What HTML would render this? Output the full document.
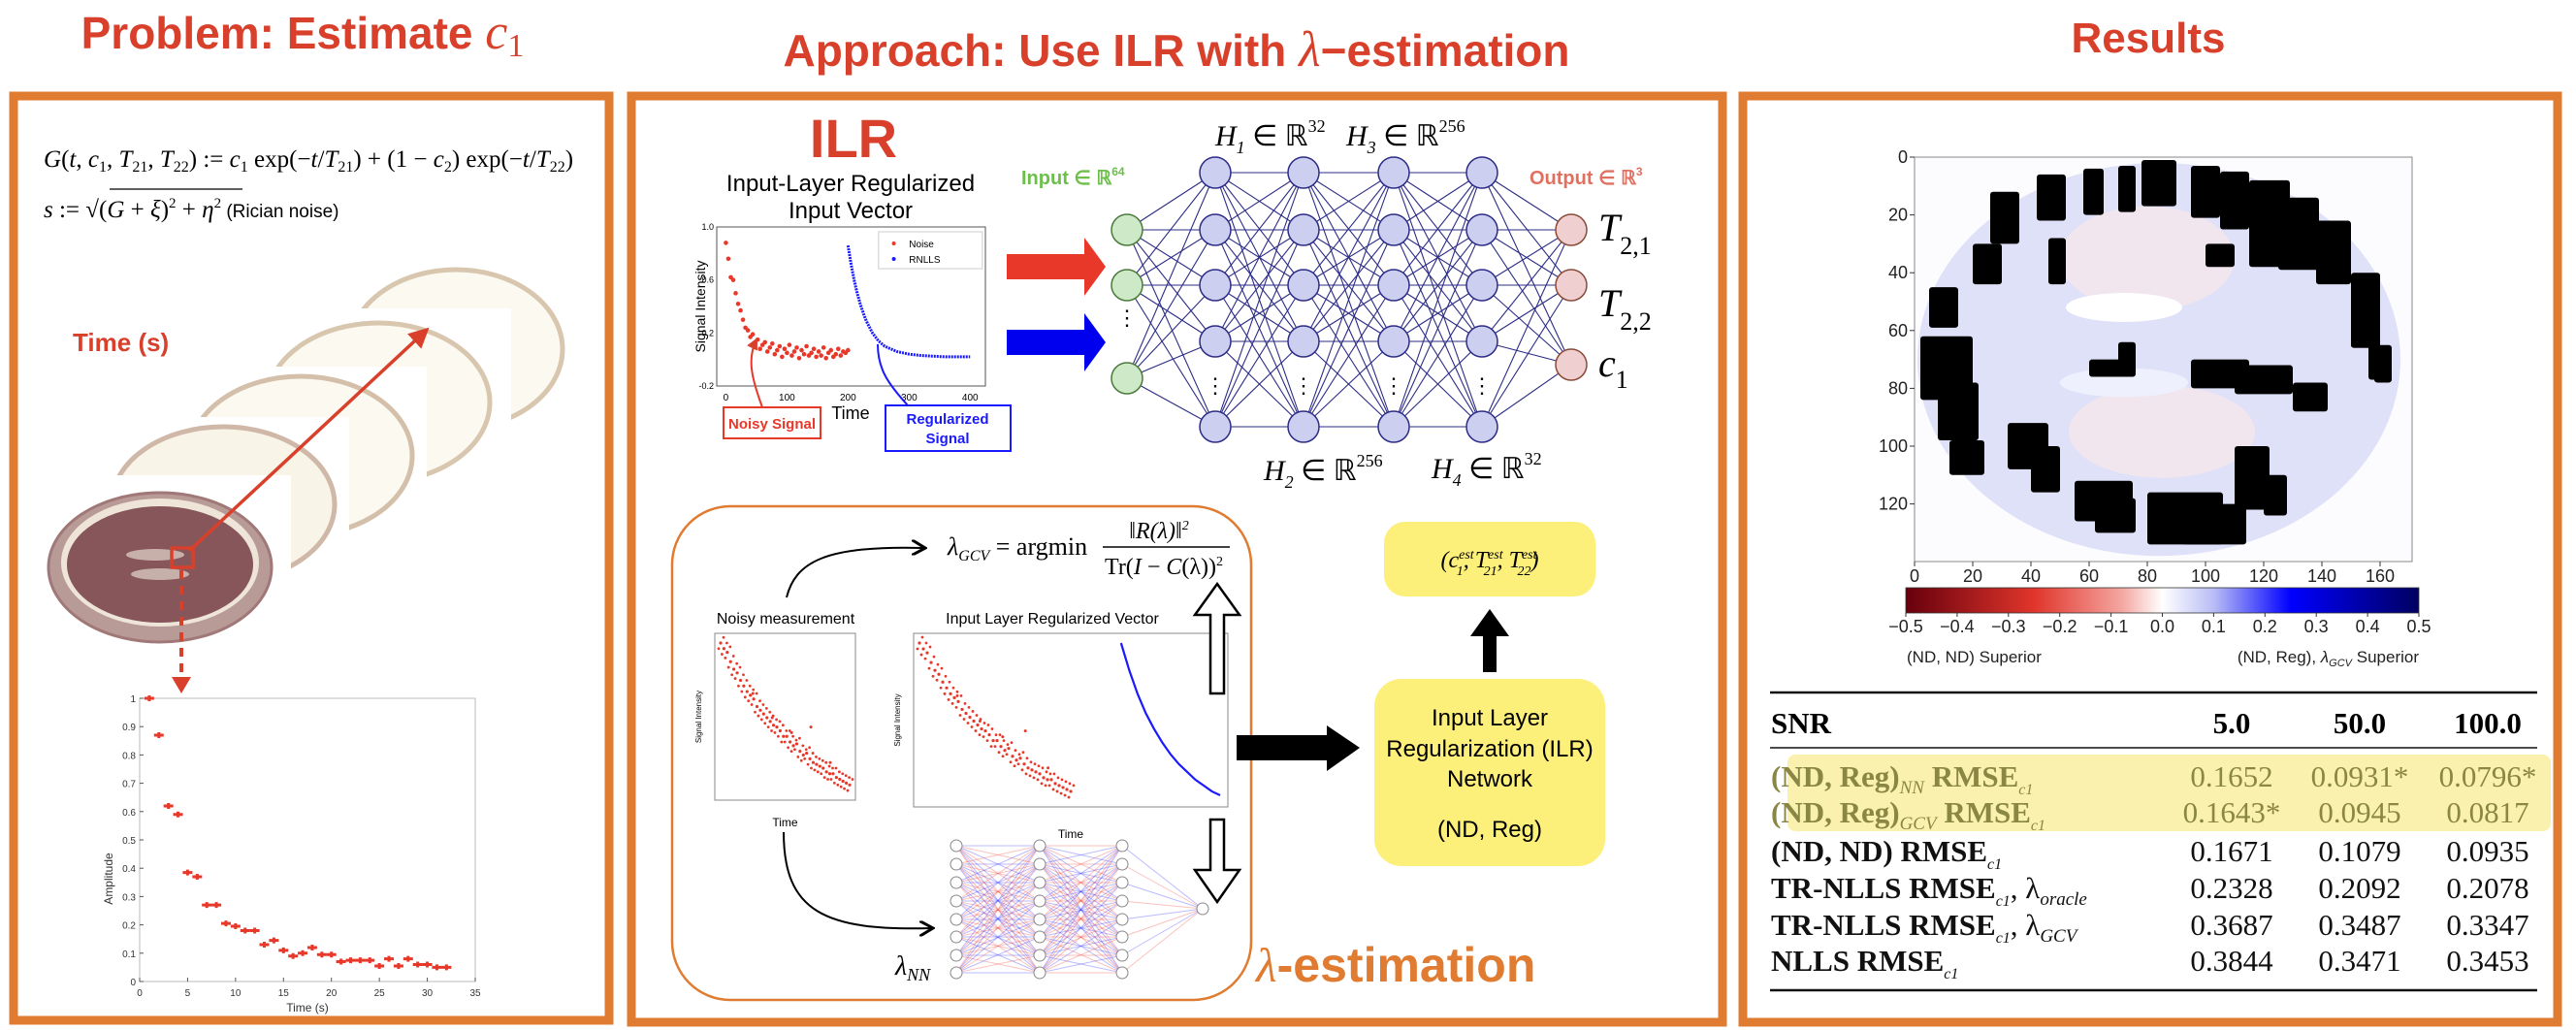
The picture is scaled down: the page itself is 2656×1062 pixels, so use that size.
<!DOCTYPE html>
<html><head><meta charset="utf-8">
<style>
html,body{margin:0;padding:0;background:#fff;}
svg{display:block;}
text{font-family:"Liberation Sans",sans-serif;}
text.serif,.serif text,.serif tspan,text.ser,.ser tspan{font-family:"Liberation Serif",serif;}
text.narrow,.narrow text{font-family:"Liberation Sans Narrow","Liberation Sans",sans-serif;}
</style></head>
<body>
<svg id="root" width="2656" height="1062" viewBox="0 0 2656 1062" xmlns="http://www.w3.org/2000/svg">
<defs>
<marker id="redHead" markerWidth="6" markerHeight="6" refX="5" refY="3" orient="auto"><path d="M0,0 L6,3 L0,6 Z" fill="#D9402B"/></marker>
<marker id="blkHead" markerWidth="8" markerHeight="8" refX="6" refY="4" orient="auto"><path d="M0,0 L7,4 L0,8" fill="none" stroke="#000" stroke-width="1.5"/></marker>
<linearGradient id="cbar" x1="0" x2="1" y1="0" y2="0">
<stop offset="0" stop-color="#67000d"/><stop offset="0.25" stop-color="#e0352b"/><stop offset="0.42" stop-color="#f4a5a0"/><stop offset="0.5" stop-color="#ffffff"/><stop offset="0.6" stop-color="#b9bdf5"/><stop offset="0.75" stop-color="#0000ff"/><stop offset="1" stop-color="#000060"/>
</linearGradient>
<clipPath id="hmclip"><rect x="1974" y="162" width="513" height="417"/></clipPath>
</defs>

<!-- Titles -->
<text x="312" y="50" text-anchor="middle" font-size="46" font-weight="bold" fill="#D9402B">Problem: Estimate <tspan style="font-family:'Liberation Serif',serif" font-style="italic" font-weight="normal" font-size="52">c</tspan><tspan style="font-family:'Liberation Serif',serif" font-weight="normal" font-size="34" dy="8">1</tspan></text>
<text x="1213" y="68" text-anchor="middle" font-size="46" font-weight="bold" fill="#D9402B">Approach: Use ILR with <tspan style="font-family:'Liberation Serif',serif" font-style="italic" font-weight="normal" font-size="52">λ</tspan>−estimation</text>
<text x="2215" y="54" text-anchor="middle" font-size="44" font-weight="bold" fill="#D9402B">Results</text>

<!-- Panel borders -->
<rect x="14" y="99" width="614" height="953" fill="none" stroke="#E07B32" stroke-width="9"/>
<rect x="651" y="99" width="1125" height="955" fill="none" stroke="#E07B32" stroke-width="9"/>
<rect x="1797" y="99" width="840" height="955" fill="none" stroke="#E07B32" stroke-width="9"/>

<!-- Panel 1 -->
<text x="45" y="172" class="serif" font-size="25"><tspan font-style="italic">G</tspan>(<tspan font-style="italic">t</tspan>, <tspan font-style="italic">c</tspan><tspan font-size="16" dy="5">1</tspan><tspan dy="-5">, </tspan><tspan font-style="italic">T</tspan><tspan font-size="16" dy="5">21</tspan><tspan dy="-5">, </tspan><tspan font-style="italic">T</tspan><tspan font-size="16" dy="5">22</tspan><tspan dy="-5">) := </tspan><tspan font-style="italic">c</tspan><tspan font-size="16" dy="5">1</tspan><tspan dy="-5"> exp(−</tspan><tspan font-style="italic">t</tspan>/<tspan font-style="italic">T</tspan><tspan font-size="16" dy="5">21</tspan><tspan dy="-5">) + (1 − </tspan><tspan font-style="italic">c</tspan><tspan font-size="16" dy="5">2</tspan><tspan dy="-5">) exp(−</tspan><tspan font-style="italic">t</tspan>/<tspan font-style="italic">T</tspan><tspan font-size="16" dy="5">22</tspan><tspan dy="-5">)</tspan></text>
<text x="45" y="224" class="serif" font-size="25"><tspan font-style="italic">s</tspan> := √<tspan>(</tspan><tspan font-style="italic">G</tspan> + <tspan font-style="italic">ξ</tspan>)<tspan font-size="15" dy="-10">2</tspan><tspan dy="10"> + </tspan><tspan font-style="italic">η</tspan><tspan font-size="15" dy="-10">2</tspan><tspan dy="10" style="font-family:'Liberation Sans',sans-serif" font-size="19"> (Rician noise)</tspan></text>
<line x1="113" y1="195" x2="250" y2="195" stroke="#000" stroke-width="1.2"/>
<text x="75" y="362" font-size="26" font-weight="bold" fill="#D9402B">Time (s)</text>

<g>
  <ellipse cx="470" cy="360" rx="110" ry="82" fill="#fbf9f0" stroke="#d8c6ae" stroke-width="5"/>
  <rect x="282" y="318" width="245" height="130" fill="#fff"/>
  <ellipse cx="390" cy="415" rx="115" ry="82" fill="#fbf9f0" stroke="#d8c6ae" stroke-width="5"/>
  <rect x="205" y="378" width="235" height="140" fill="#fff"/>
  <ellipse cx="310" cy="470" rx="115" ry="82" fill="#fbf9f0" stroke="#d4c0aa" stroke-width="5"/>
  <rect x="120" y="430" width="240" height="130" fill="#fff"/>
  <ellipse cx="230" cy="520" rx="115" ry="80" fill="#f8f4e8" stroke="#d0b8a8" stroke-width="5"/>
  <rect x="90" y="490" width="210" height="140" fill="#fff"/>
  <ellipse cx="165" cy="585" rx="115" ry="77" fill="#b89a96" stroke="#a07878" stroke-width="3"/>
  <ellipse cx="165" cy="580" rx="102" ry="66" fill="#eee5d8"/>
  <ellipse cx="165" cy="582" rx="96" ry="60" fill="#86565a"/>
  <ellipse cx="160" cy="572" rx="30" ry="6" fill="#c8b0aa"/>
  <ellipse cx="165" cy="592" rx="30" ry="6" fill="#c8b0aa"/>
</g>
<rect x="177" y="565" width="22" height="20" fill="none" stroke="#D9402B" stroke-width="3.5"/>
<line x1="195" y1="568" x2="440" y2="340" stroke="#D9402B" stroke-width="3.5" marker-end="url(#redHead)"/>
<line x1="187" y1="588" x2="187" y2="700" stroke="#D9402B" stroke-width="4" stroke-dasharray="9,7"/>
<path d="M177,698 L197,698 L187,715 Z" fill="#D9402B"/>

<g id="ampPlot"></g>

<!-- Panel 2 upper -->
<text x="880" y="162" text-anchor="middle" font-size="56" font-weight="bold" fill="#D9402B" class="narrow">ILR</text>
<text x="877" y="197" text-anchor="middle" font-size="24" class="narrow">Input-Layer Regularized</text>
<text x="877" y="225" text-anchor="middle" font-size="24" class="narrow">Input Vector</text>
<g id="ilrPlot"></g>

<rect x="746" y="420" width="100" height="32" fill="#fff" stroke="#E8382A" stroke-width="2"/>
<text x="796" y="442" text-anchor="middle" font-size="15" fill="#E8382A" font-weight="bold" class="narrow">Noisy Signal</text>
<rect x="913" y="418" width="129" height="47" fill="#fff" stroke="#1a1aff" stroke-width="2"/>
<text x="977" y="437" text-anchor="middle" font-size="15" fill="#1a1aff" font-weight="bold" class="narrow">Regularized</text>
<text x="977" y="457" text-anchor="middle" font-size="15" fill="#1a1aff" font-weight="bold" class="narrow">Signal</text>
<path d="M786,420 C775,390 770,370 780,350" fill="none" stroke="#E8382A" stroke-width="2" marker-end="url(#redHead)"/>
<path d="M936,418 C915,395 905,380 905,355" fill="none" stroke="#1a1aff" stroke-width="2"/>
<text x="877" y="432" text-anchor="middle" font-size="18" class="narrow">Time</text>

<path d="M1038,262 L1118,262 L1118,245 L1140,275 L1118,305 L1118,288 L1038,288 Z" fill="#E8382A"/>
<path d="M1038,340 L1118,340 L1118,323 L1140,353 L1118,383 L1118,366 L1038,366 Z" fill="#0000ee"/>

<g id="net"></g>
<text x="1253" y="150" class="serif" font-size="30" font-style="italic">H<tspan font-size="18" dy="8">1</tspan><tspan dy="-8" font-style="normal"> ∈ ℝ</tspan><tspan font-size="18" dy="-14" font-style="normal">32</tspan></text>
<text x="1388" y="150" class="serif" font-size="30" font-style="italic">H<tspan font-size="18" dy="8">3</tspan><tspan dy="-8" font-style="normal"> ∈ ℝ</tspan><tspan font-size="18" dy="-14" font-style="normal">256</tspan></text>
<text x="1303" y="495" class="serif" font-size="30" font-style="italic">H<tspan font-size="18" dy="8">2</tspan><tspan dy="-8" font-style="normal"> ∈ ℝ</tspan><tspan font-size="18" dy="-14" font-style="normal">256</tspan></text>
<text x="1476" y="493" class="serif" font-size="30" font-style="italic">H<tspan font-size="18" dy="8">4</tspan><tspan dy="-8" font-style="normal"> ∈ ℝ</tspan><tspan font-size="18" dy="-14" font-style="normal">32</tspan></text>
<text x="1053" y="190" font-size="20" fill="#6cc04a" font-weight="bold" class="narrow">Input ∈ ℝ<tspan font-size="12" dy="-9">64</tspan></text>
<text x="1577" y="190" font-size="20" fill="#e07060" font-weight="bold" class="narrow">Output ∈ ℝ<tspan font-size="12" dy="-9">3</tspan></text>
<text x="1648" y="248" class="serif" font-size="40" font-style="italic">T<tspan font-size="26" dy="14" font-style="normal">2,1</tspan></text>
<text x="1648" y="326" class="serif" font-size="40" font-style="italic">T<tspan font-size="26" dy="14" font-style="normal">2,2</tspan></text>
<text x="1648" y="388" class="serif" font-size="40" font-style="italic">c<tspan font-size="26" dy="12" font-style="normal">1</tspan></text>

<!-- Panel 2 lower -->
<rect x="693" y="522" width="597" height="509" rx="60" fill="none" stroke="#E07B32" stroke-width="2.5"/>
<text x="977" y="572" class="serif" font-size="26" font-style="italic">λ<tspan font-size="16" dy="6">GCV</tspan><tspan dy="-6" font-style="normal"> = argmin</tspan></text>
<text x="1195" y="555" text-anchor="middle" class="serif" font-size="24" font-style="italic">‖R(λ)‖<tspan font-size="14" dy="-9">2</tspan></text>
<line x1="1137" y1="564" x2="1268" y2="564" stroke="#000" stroke-width="1.5"/>
<text x="1200" y="592" text-anchor="middle" class="serif" font-size="24">Tr(<tspan font-style="italic">I</tspan> − <tspan font-style="italic">C</tspan>(λ))<tspan font-size="14" dy="-9">2</tspan></text>
<path d="M811,616 C820,580 850,562 952,565" fill="none" stroke="#000" stroke-width="2" marker-end="url(#blkHead)"/>
<path d="M808,858 C808,940 850,960 960,957" fill="none" stroke="#000" stroke-width="2" marker-end="url(#blkHead)"/>
<text x="810" y="643" text-anchor="middle" font-size="16" class="narrow">Noisy measurement</text>
<text x="1085" y="643" text-anchor="middle" font-size="16" class="narrow">Input Layer Regularized Vector</text>
<g id="miniPlots"></g>
<path d="M1248,715 L1248,634 L1232,634 L1255,602 L1278,634 L1262,634 L1262,715 Z" fill="#fff" stroke="#000" stroke-width="2.5"/>
<path d="M1248,845 L1262,845 L1262,897 L1278,897 L1255,930 L1232,897 L1248,897 Z" fill="#fff" stroke="#000" stroke-width="2.5"/>
<g id="smallNet"></g>
<text x="923" y="1005" class="serif" font-size="28" font-style="italic">λ<tspan font-size="18" dy="6">NN</tspan></text>
<text x="1295" y="1012" font-size="50" font-weight="bold" fill="#E07B32" class="narrow"><tspan style="font-family:'Liberation Serif',serif" font-style="italic" font-weight="normal">λ</tspan>-estimation</text>
<path d="M1275,758 L1368,758 L1368,748 L1402,771 L1368,795 L1368,784 L1275,784 Z" fill="#000"/>
<rect x="1417" y="700" width="238" height="193" rx="28" fill="#FCEF7A"/>
<g font-size="24" text-anchor="middle" class="narrow">
<text x="1536" y="748">Input Layer</text>
<text x="1536" y="780">Regularization (ILR)</text>
<text x="1536" y="811">Network</text>
<text x="1536" y="863">(ND, Reg)</text>
</g>
<path d="M1529,693 L1529,656 L1516,656 L1536,628 L1556,656 L1543,656 L1543,693 Z" fill="#000"/>
<rect x="1427" y="538" width="218" height="77" rx="22" fill="#FCEF7A"/>
<text x="1536" y="585" text-anchor="middle" class="serif" font-size="24" font-style="italic">(c<tspan font-size="14" dy="-9">est</tspan><tspan font-size="14" dx="-18" dy="17">1</tspan><tspan dy="-8">, T</tspan><tspan font-size="14" dy="-9">est</tspan><tspan font-size="14" dx="-20" dy="17">21</tspan><tspan dy="-8">, T</tspan><tspan font-size="14" dy="-9">est</tspan><tspan font-size="14" dx="-20" dy="17">22</tspan><tspan dy="-8">)</tspan></text>

<!-- Panel 3 heatmap -->
<g id="heatmap"></g>
<rect x="1965" y="606" width="529" height="26" fill="url(#cbar)" stroke="#333" stroke-width="0.8"/>
<g id="cbarTicks"></g>
<text x="1966" y="683" font-size="17" class="narrow" fill="#222">(ND, ND) Superior</text>
<text x="2494" y="683" text-anchor="end" font-size="17" class="narrow" fill="#222">(ND, Reg), <tspan font-style="italic">λ</tspan><tspan font-size="11" dy="4" font-style="italic">GCV</tspan><tspan dy="-4"> Superior</tspan></text>

<!-- Table -->
<g id="table"></g>
</svg>

<script>
const NS='http://www.w3.org/2000/svg';
function mk(tag,attrs,parent){const e=document.createElementNS(NS,tag);for(const k in attrs)e.setAttribute(k,attrs[k]);parent.appendChild(e);return e;}
function txt(x,y,s,attrs,parent){const e=mk('text',Object.assign({x:x,y:y},attrs),parent);e.textContent=s;return e;}

// ---------- Amplitude plot data ----------
const ampTimes=[1,2,3,4,5,6,7,8,9,10,11,12,13,14,15,16,17,18,19,20,21,22,23,24,25,26,27,28,29,30,31,32];
const ampValues=[1,0.87,0.62,0.59,0.385,0.37,0.27,0.27,0.205,0.195,0.18,0.18,0.13,0.145,0.11,0.09,0.10,0.12,0.095,0.095,0.07,0.075,0.075,0.075,0.055,0.08,0.055,0.08,0.06,0.06,0.05,0.05];
const ampXTicks=[0,5,10,15,20,25,30,35];
const ampYTicks=[0,0.1,0.2,0.3,0.4,0.5,0.6,0.7,0.8,0.9,1];
(function(){
  const g=document.getElementById('ampPlot');
  const L=144,R=490,T=720,B=1012;
  const sx=v=>L+(v/35)*(R-L), sy=v=>B-v*(B-T);
  mk('rect',{x:L,y:T,width:R-L,height:B-T,fill:'#fff',stroke:'#bbb','stroke-width':1},g);
  ampXTicks.forEach(t=>{const e=txt(sx(t),B+15,String(t),{'text-anchor':'middle','font-size':10,fill:'#333'},g);mk('line',{x1:sx(t),x2:sx(t),y1:B,y2:B-4,stroke:'#555'},g);});
  ampYTicks.forEach(t=>{const e=txt(L-4,sy(t)+4,String(t),{'text-anchor':'end','font-size':10,fill:'#333'},g);mk('line',{x1:L,x2:L+4,y1:sy(t),y2:sy(t),stroke:'#555'},g);});
  const xl=txt((L+R)/2,B+31,'Time (s)',{'text-anchor':'middle','font-size':12,fill:'#333'},g);
  
  const yl=txt(0,0,'Amplitude',{'text-anchor':'middle','font-size':12,fill:'#333',transform:`translate(${L-28},${(T+B)/2+40}) rotate(-90)`},g);
  
  ampTimes.forEach((t,i)=>{const x=sx(t),y=sy(ampValues[i]);
    const p=mk('path',{d:`M${x-5},${y} L${x+5},${y} M${x},${y-3} L${x},${y+3}`,stroke:'#E8382A','stroke-width':3},g);
    });
})();

// ---------- ILR input plot ----------
const ilrNoiseT=[0,4,8,12,16,20,24,28,32,36,40,44,48,52,56,60,64,68,72,76,80,84,88,92,96,100,104,108,112,116,120,124,128,132,136,140,144,148,152,156,160,164,168,172,176,180,184,188,192,196,200];
const ilrNoiseV=[0.88,0.76,0.62,0.6,0.5,0.42,0.37,0.3,0.24,0.22,0.17,0.19,0.12,0.15,0.08,0.11,0.13,0.06,0.09,0.12,0.04,0.07,0.10,0.02,0.08,0.05,0.11,0.03,0.06,0.09,0.01,0.07,0.04,0.10,0.03,0.05,0.08,0.02,0.06,0.03,0.09,0.01,0.05,0.07,0.02,0.04,0.08,0.03,0.06,0.05,0.07];
const ilrRegT=[200,205,210,215,220,225,230,240,250,260,270,280,290,300,320,340,360,380,400];
const ilrRegV=[0.86,0.72,0.6,0.5,0.42,0.35,0.29,0.2,0.14,0.1,0.08,0.06,0.05,0.04,0.03,0.025,0.02,0.02,0.02];
const ilrXTicks=[0,100,200,300,400];
const ilrYTicks=[-0.2,0.2,0.6,1.0];
(function(){
  const g=document.getElementById('ilrPlot');
  const L=739,R=1016,T=234,B=398, xmin=-15,xmax=425,ymin=-0.2,ymax=1.0;
  const sx=v=>L+(v-xmin)/(xmax-xmin)*(R-L), sy=v=>B-(v-ymin)/(ymax-ymin)*(B-T);
  mk('rect',{x:L,y:T,width:R-L,height:B-T,fill:'#fff',stroke:'#555','stroke-width':1},g);
  ilrXTicks.forEach(t=>{const e=txt(sx(t),B+15,String(t),{'text-anchor':'middle','font-size':10,class:'narrow'},g);});
  ilrYTicks.forEach(t=>{const e=txt(L-3,sy(t)+3,t.toFixed(1),{'text-anchor':'end','font-size':9,class:'narrow'},g);});
  const yl=txt(0,0,'Signal Intensity',{'text-anchor':'middle','font-size':14,transform:`translate(${L-12},${(T+B)/2}) rotate(-90)`},g);
  
  ilrNoiseT.forEach((t,i)=>{const c=mk('circle',{cx:sx(t),cy:sy(ilrNoiseV[i]),r:2.3,fill:'#E8382A'},g);});
  let d='';ilrRegT.forEach((t,i)=>{d+=(i?'L':'M')+sx(t)+','+sy(ilrRegV[i]);});
  const p=mk('path',{d:d,fill:'none',stroke:'#1a1aff','stroke-width':3,'stroke-dasharray':'2,1'},g);
  mk('rect',{x:sx(250),y:T+5,width:sx(420)-sx(250),height:38,fill:'#fff',stroke:'#ccc'},g);
  mk('circle',{cx:sx(275),cy:T+17,r:2,fill:'#E8382A'},g);txt(sx(300),T+21,'Noise',{'font-size':10,class:'narrow'},g);
  mk('circle',{cx:sx(275),cy:T+33,r:2,fill:'#1a1aff'},g);txt(sx(300),T+37,'RNLLS',{'font-size':10,class:'narrow'},g);
})();

// ---------- Network ----------
const netLayerX=[1162,1253,1344,1437,1528,1620];
const netInputY=[237,294,390];
const netHiddenY=[178,237,294,352,440];
const netOutputY=[237,294,376];
(function(){
  const g=document.getElementById('net');
  const layers=[netInputY,netHiddenY,netHiddenY,netHiddenY,netHiddenY,netOutputY];
  for(let l=0;l<layers.length-1;l++){layers[l].forEach(a=>layers[l+1].forEach(b=>{mk('line',{x1:netLayerX[l],y1:a,x2:netLayerX[l+1],y2:b,stroke:'#2c2c86','stroke-width':1.1},g);}));}
  layers.forEach((ys,l)=>ys.forEach(y=>{
    const fill=l===0?'#cde9c8':(l===5?'#efcfcf':'#cccff0'), st=l===0?'#4a7a3a':(l===5?'#8a4a3a':'#2c2c86');
    const c=mk('ellipse',{cx:netLayerX[l],cy:y,rx:16,ry:16,fill:fill,stroke:st,'stroke-width':1.5},g);
    }));
  txt(1162,335,'⋮',{'text-anchor':'middle','font-size':22},g);
  for(let l=1;l<5;l++)txt(netLayerX[l],405,'⋮',{'text-anchor':'middle','font-size':22},g);
})();

// ---------- Mini plots in lambda box ----------
const miniNoiseV=[1.0,0.97,0.95,0.9,0.86,0.84,0.8,0.77,0.74,0.72,0.7,0.66,0.64,0.62,0.6,0.58,0.56,0.55,0.53,0.5,0.5,0.47,0.45,0.46,0.42,0.4,0.41,0.38,0.36,0.35,0.34,0.33,0.31,0.3,0.3,0.28,0.27,0.26,0.25,0.24];
const miniOutliers=[0.73,0.6,0.52,0.55,0.36];
const miniRegV=[1.0,0.86,0.74,0.64,0.56,0.49,0.43,0.38,0.34,0.3,0.27,0.24,0.22];
(function(){
  const g=document.getElementById('miniPlots');
  function plot(L,R,T,B,tmax,name,withReg){
    const gg=mk('g',{},g);
    mk('rect',{x:L,y:T,width:R-L,height:B-T,fill:'#fff',stroke:'#888','stroke-width':1},gg);
    const sy=v=>B-8-(v-0.2)/0.8*(B-T-18);
    const nL=L+6, nR=withReg?L+(R-L)*0.5:R-6;
    miniNoiseV.forEach((v,i)=>{const x=nL+i/(miniNoiseV.length-1)*(nR-nL);
      const c=mk('circle',{cx:x,cy:sy(v),r:1.6,fill:'#E8382A'},gg);
      mk('circle',{cx:x+3,cy:sy(v+0.03),r:1.4,fill:'#E8382A'},gg);mk('circle',{cx:x-2,cy:sy(v-0.03),r:1.4,fill:'#E8382A'},gg);});
    miniOutliers.forEach((v,i)=>{mk('circle',{cx:nL+(0.25+i*0.15)*(nR-nL),cy:sy(v),r:1.5,fill:'#E8382A'},gg);});
    if(withReg){let d='';const rL=L+(R-L)*0.66,rR=R-8;miniRegV.forEach((v,i)=>{d+=(i?'L':'M')+(rL+i/(miniRegV.length-1)*(rR-rL))+','+sy(v);});
      const p=mk('path',{d:d,fill:'none',stroke:'#1a1aff','stroke-width':2.2},gg);}
    txt((L+R)/2,B+(withReg?32:27),'Time',{'text-anchor':'middle','font-size':12,class:'narrow'},gg);
    txt(0,0,'Signal Intensity',{'text-anchor':'middle','font-size':8,transform:`translate(${L-14},${(T+B)/2}) rotate(-90)`},gg);
  }
  plot(737,882,653,825,250,'noisy-measurement-plot',false);
  plot(942,1266,653,832,500,'ilr-vector-plot',true);
})();

// ---------- Small NN ----------
const smallNetX=[986,1072,1157,1240];
const smallNetY=[872,891,910,929,948,966,985,1003];
(function(){
  const g=document.getElementById('smallNet');
  for(let l=0;l<3;l++){smallNetY.forEach((a,i)=>{const targets=l<2?smallNetY:[937];targets.forEach((b,j)=>{
    const col=((i+j+l)%2===0)?'rgba(60,60,255,0.35)':'rgba(240,80,70,0.35)';
    mk('line',{x1:smallNetX[l],y1:a,x2:smallNetX[l+1],y2:b,stroke:col,'stroke-width':1},g);});});}
  for(let l=0;l<3;l++)smallNetY.forEach(y=>{const c=mk('circle',{cx:smallNetX[l],cy:y,r:6,fill:'#fff',stroke:'#888'},g);});
  mk('circle',{cx:smallNetX[3],cy:937,r:6,fill:'#fff',stroke:'#888'},g);
})();

// ---------- Heatmap ----------
const hmXTicks=[0,20,40,60,80,100,120,140,160];
const hmYTicks=[0,20,40,60,80,100,120];
const hmBlackCols=[26,42,58,70,78,95,105,115,125,138,150,156,5,2,8,12,32,40,55,62,80,92,110,120,95,110,130,150,158,20,46,70,100,60];
const hmBlackRows=[12,6,4,3,1,3,5,8,14,22,40,65,45,62,78,98,92,100,112,118,116,120,100,110,70,72,78,52,72,30,28,64,30,70];
const hmBlackW=[10,10,7,6,12,10,10,14,14,12,10,8,10,18,14,12,14,10,20,14,26,22,12,8,20,20,12,10,6,10,6,6,10,14];
const hmBlackH=[18,16,16,16,16,18,20,30,25,22,26,12,14,22,20,12,16,16,14,12,18,14,22,14,10,10,10,14,6,14,16,12,8,6];
(function(){
  const g=document.getElementById('heatmap');
  const L=1974,T=162,cw=3.0,ch=2.98;
  const sx=c=>L+c*cw, sy=r=>T+r*ch;
  mk('rect',{x:L,y:T,width:513,height:417,fill:'#fcfcff',stroke:'#888','stroke-width':1},g);
  const inner=mk('g',{'clip-path':'url(#hmclip)'},g);
  mk('ellipse',{cx:sx(84),cy:sy(70),rx:83*cw,ry:68*ch,fill:'#dfe1f8'},inner);
  mk('ellipse',{cx:sx(80),cy:sy(35),rx:30*cw,ry:18*ch,fill:'#f1e5ee'},inner);
  mk('ellipse',{cx:sx(85),cy:sy(95),rx:32*cw,ry:16*ch,fill:'#f1e5ee'},inner);
  mk('ellipse',{cx:sx(72),cy:sy(52),rx:20*cw,ry:5*ch,fill:'#ffffff'},inner);
  mk('ellipse',{cx:sx(72),cy:sy(78),rx:22*cw,ry:5*ch,fill:'#eef0fd'},inner);
  hmBlackCols.forEach((c,i)=>{const r=mk('rect',{x:sx(c),y:sy(hmBlackRows[i]),width:hmBlackW[i]*cw,height:hmBlackH[i]*ch,fill:'#000',rx:3},inner);
    });
  hmXTicks.forEach(t=>{mk('line',{x1:sx(t),x2:sx(t),y1:579,y2:584,stroke:'#333'},g);const e=txt(sx(t),600,String(t),{'text-anchor':'middle','font-size':18,class:'narrow',fill:'#222'},g);});
  hmYTicks.forEach(t=>{mk('line',{x1:L-5,x2:L,y1:sy(t),y2:sy(t),stroke:'#333'},g);const e=txt(L-7,sy(t)+6,String(t),{'text-anchor':'end','font-size':18,class:'narrow',fill:'#222'},g);});
})();
const cbarTicks=[-0.5,-0.4,-0.3,-0.2,-0.1,0.0,0.1,0.2,0.3,0.4,0.5];
(function(){
  const g=document.getElementById('cbarTicks');
  cbarTicks.forEach(t=>{const x=1965+(t+0.5)*529;mk('line',{x1:x,x2:x,y1:632,y2:636,stroke:'#333'},g);
    const e=txt(x,652,(t<0?'−':'')+Math.abs(t).toFixed(1),{'text-anchor':'middle','font-size':18,class:'narrow',fill:'#222'},g);
    });
})();

// ---------- Table ----------
const tableSNR=['5.0','50.0','100.0'];
const tableRowNN=['0.1652','0.0931*','0.0796*'];
const tableRowGCV=['0.1643*','0.0945','0.0817'];
const tableRowNDND=['0.1671','0.1079','0.0935'];
const tableRowTROracle=['0.2328','0.2092','0.2078'];
const tableRowTRGCV=['0.3687','0.3487','0.3347'];
const tableRowNLLS=['0.3844','0.3471','0.3453'];
(function(){
  const g=document.getElementById('table');
  const colX=[2301,2433,2565], rowY=[811,848,888,926,964,1001];
  mk('rect',{x:1843,y:778,width:787,height:79,rx:8,fill:'#FBF1AE'},g);
  mk('line',{x1:1825,x2:2616,y1:714,y2:714,stroke:'#111','stroke-width':2.5},g);
  mk('line',{x1:1825,x2:2616,y1:771,y2:771,stroke:'#111','stroke-width':1.5},g);
  mk('line',{x1:1825,x2:2616,y1:1021,y2:1021,stroke:'#111','stroke-width':2.5},g);
  const h=txt(1826,756,'SNR',{'font-size':31,'font-weight':'bold',class:'ser'},g);
  tableSNR.forEach((s,i)=>{const e=txt(colX[i],756,s,{'font-size':31,'font-weight':'bold','text-anchor':'middle',class:'ser'},g);});
  const rows=[tableRowNN,tableRowGCV,tableRowNDND,tableRowTROracle,tableRowTRGCV,tableRowNLLS];
  const labels=[
    ['(ND, Reg)','NN',' RMSE',false],
    ['(ND, Reg)','GCV',' RMSE',false],
    ['(ND, ND) RMSE',null,'',false],
    ['TR-NLLS RMSE',null,'','oracle'],
    ['TR-NLLS RMSE',null,'','GCV'],
    ['NLLS RMSE',null,'',false]];
  rows.forEach((vals,r)=>{
    const col=r<2?'#8a8744':'#111';
    const t=mk('text',{x:1826,y:rowY[r],'font-size':31,'font-weight':'bold',fill:col,class:'ser'},g);
    
    const lb=labels[r];
    const a=mk('tspan',{},t);a.textContent=lb[0];
    if(lb[1]){const s=mk('tspan',{'font-size':19,dy:7,'font-style':'italic','font-weight':'normal'},t);s.textContent=lb[1];
      const b=mk('tspan',{dy:-7},t);b.textContent=lb[2];}
    const c=mk('tspan',{'font-size':16,dy:8,'font-style':'italic','font-weight':'normal'},t);c.textContent='c1';
    if(lb[3]){const k=mk('tspan',{dy:-8,'font-weight':'normal'},t);k.textContent=', λ';
      const q=mk('tspan',{'font-size':19,dy:7,'font-style':'italic','font-weight':'normal'},t);q.textContent=lb[3];}
    vals.forEach((v,i)=>{const e2=txt(colX[i],rowY[r],v,{'font-size':31,'text-anchor':'middle',fill:col,class:'ser'},g);});
  });
})();
</script>
</body></html>
